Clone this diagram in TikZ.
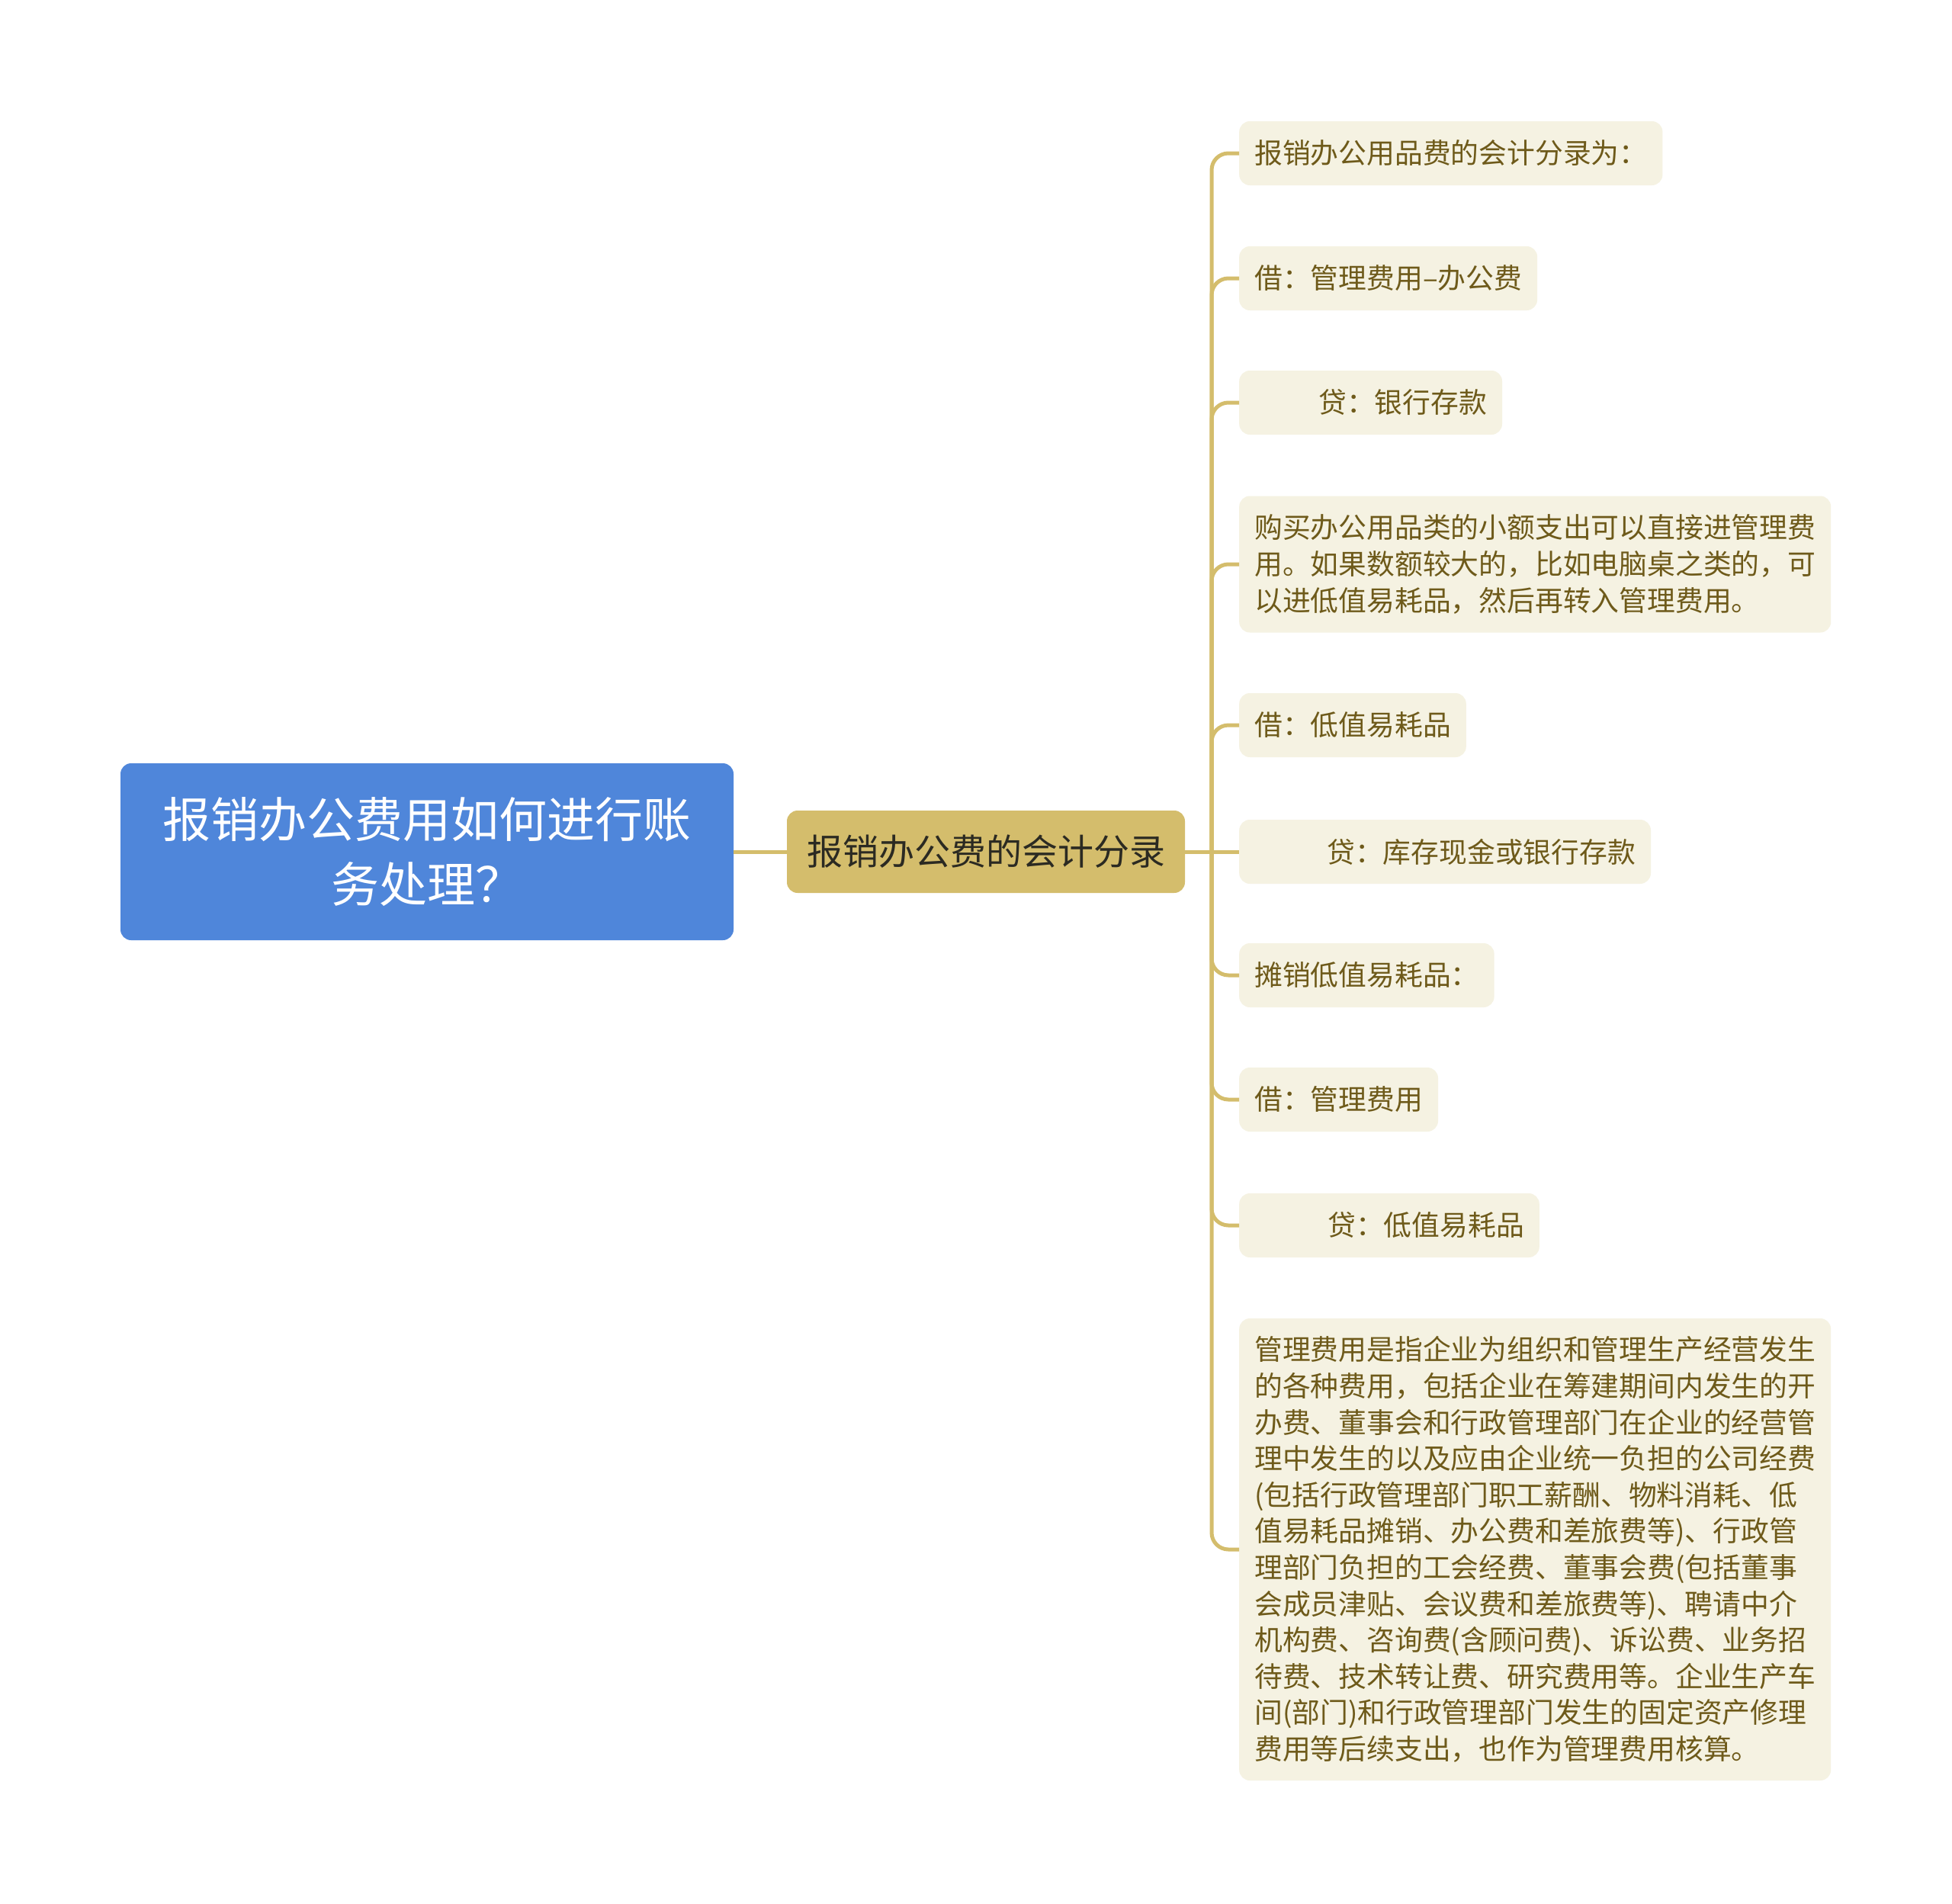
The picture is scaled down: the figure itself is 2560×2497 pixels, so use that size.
\documentclass[tikz,border=0pt]{standalone}
\usepackage{fontspec}
\setmainfont{Noto Sans CJK SC}
\definecolor{rootfill}{HTML}{4F86DA}
\definecolor{midfill}{HTML}{D4BD6C}
\definecolor{midtext}{HTML}{2B2A22}
\definecolor{connc}{HTML}{D4BD6C}
\definecolor{leaffill}{HTML}{F5F2E2}
\definecolor{leaftext}{HTML}{6E5A1A}
\begin{document}
\begin{tikzpicture}[x=1pt,y=-1pt,
  rootbox/.style={draw=none,fill=rootfill,text=white,rounded corners=14pt,align=center,
    minimum width=804pt,minimum height=232pt,inner sep=0pt,
    font=\fontsize{63pt}{85pt}\selectfont},
  midbox/.style={draw=none,fill=midfill,text=midtext,rounded corners=14pt,
    minimum width=522pt,minimum height=108pt,inner sep=0pt,
    font=\fontsize{47pt}{56pt}\selectfont},
  leafbox/.style={draw=none,fill=leaffill,text=leaftext,rounded corners=14pt,anchor=west,
    align=left,inner xsep=20pt,inner ysep=0pt,minimum height=84pt,
    font=\fontsize{36.8pt}{47.6pt}\selectfont},
  conn/.style={draw=connc,line width=5pt},
  branch/.style={conn,rounded corners=22pt}]
\useasboundingbox[fill=white] (0,0) rectangle (2560,2497);

\node[rootbox] (root) at (560,1117) {报销办公费用如何进行账\\务处理？};
\node[midbox] (mid) at (1293,1117) {报销办公费的会计分录};

\node[leafbox] (l1) at (1625,201) {报销办公用品费的会计分录为：};
\node[leafbox] (l2) at (1625,365) {借：管理费用–办公费};
\node[leafbox] (l3) at (1625,528) {\hspace*{84pt}贷：银行存款};
\node[leafbox,minimum height=179pt] (l4) at (1625,740) {购买办公用品类的小额支出可以直接进管理费\\用。如果数额较大的，比如电脑桌之类的，可\\以进低值易耗品，然后再转入管理费用。};
\node[leafbox] (l5) at (1625,951) {借：低值易耗品};
\node[leafbox] (l6) at (1625,1117) {\hspace*{95pt}贷：库存现金或银行存款};
\node[leafbox] (l7) at (1625,1279) {摊销低值易耗品：};
\node[leafbox] (l8) at (1625,1442) {借：管理费用};
\node[leafbox] (l9) at (1625,1607) {\hspace*{96pt}贷：低值易耗品};
\node[leafbox,minimum height=606pt] (l10) at (1625,2032) {管理费用是指企业为组织和管理生产经营发生\\的各种费用，包括企业在筹建期间内发生的开\\办费、董事会和行政管理部门在企业的经营管\\理中发生的以及应由企业统一负担的公司经费\\(包括行政管理部门职工薪酬、物料消耗、低\\值易耗品摊销、办公费和差旅费等)、行政管\\理部门负担的工会经费、董事会费(包括董事\\会成员津贴、会议费和差旅费等)、聘请中介\\机构费、咨询费(含顾问费)、诉讼费、业务招\\待费、技术转让费、研究费用等。企业生产车\\间(部门)和行政管理部门发生的固定资产修理\\费用等后续支出，也作为管理费用核算。};

\coordinate (j) at (1589,1117);
\draw[conn] (root.east) -- (mid.west);
\draw[conn] (mid.east) -- (l6.west);
\foreach \n in {l1,l2,l3,l4,l5,l7,l8,l9,l10}{
  \draw[branch] (j) |- (\n.west);
}
\end{tikzpicture}
\end{document}
